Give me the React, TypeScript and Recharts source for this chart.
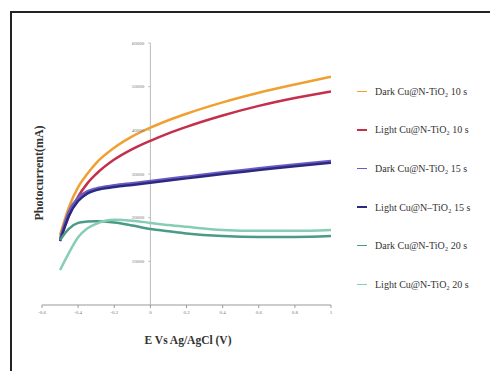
import React from 'react';
import { LineChart, Line, XAxis, YAxis, ReferenceLine } from 'recharts';

const potentials = [-0.5, -0.45, -0.4, -0.35, -0.3, -0.2, -0.1, 0, 0.1, 0.2, 0.4, 0.6, 0.8, 1];
const dark10 = [16000, 22500, 27000, 30000, 32500, 36000, 38600, 40600, 42300, 43800, 46400, 48600, 50500, 52300];
const light10 = [14900, 20500, 24800, 27800, 30000, 33300, 35700, 37600, 39300, 40800, 43400, 45600, 47400, 48900];
const dark15 = [15200, 21500, 24600, 26000, 26700, 27400, 27900, 28400, 28900, 29400, 30400, 31300, 32200, 33000];
const light15 = [14600, 20500, 23800, 25500, 26300, 27000, 27500, 28000, 28500, 29000, 30000, 30900, 31800, 32600];
const dark20 = [14900, 17500, 18800, 19100, 19200, 18900, 18200, 17400, 16900, 16400, 15800, 15600, 15600, 15800];
const light20 = [8000, 12000, 15500, 17500, 18600, 19500, 19300, 18800, 18300, 17900, 17200, 17000, 17000, 17200];

const xTicks = [-0.6, -0.4, -0.2, 0, 0.2, 0.4, 0.6, 0.8, 1];
const yTicks = [10000, 20000, 30000, 40000, 50000, 60000];

const seriesNames = [
  'Dark Cu@N-TiO\u2082 10 s',
  'Light Cu@N-TiO\u2082 10 s',
  'Dark Cu@N-TiO\u2082 15 s',
  'Light Cu@N\u2013TiO\u2082 15 s',
  'Dark Cu@N-TiO\u2082 20 s',
  'Light Cu@N-TiO\u2082 20 s',
];
const seriesKeys = ['dark10', 'light10', 'dark15', 'light15', 'dark20', 'light20'];
const seriesColors = ['#f0a032', '#c4304c', '#6a5cc4', '#2c2a80', '#4a9a86', '#86cdb4'];
const seriesValues = [dark10, light10, dark15, light15, dark20, light20];

const data = potentials.map((e, i) => {
  const row: Record<string, number> = { e };
  seriesKeys.forEach((k, j) => {
    row[k] = seriesValues[j][i];
  });
  return row;
});

const FONT = '"Liberation Serif", "DejaVu Serif", serif';

export default function App() {
  return (
    <div style={{ position: 'absolute', left: 0, top: 0, width: 490, height: 371, overflow: 'hidden', background: '#fff' }}>
      <div
        style={{
          position: 'absolute',
          left: 10,
          top: 11,
          width: 520,
          height: 400,
          borderLeft: '2px solid #222',
          borderTop: '2px solid #222',
          boxSizing: 'border-box',
        }}
      />
      <div style={{ position: 'absolute', left: 0, top: 0 }}>
        <LineChart
          width={490}
          height={371}
          data={data}
          margin={{ top: 43, right: 159, bottom: 46, left: 42 }}
        >
          <XAxis
            dataKey="e"
            type="number"
            domain={[-0.6, 1]}
            ticks={xTicks}
            allowDataOverflow
            height={20}
            stroke="#999"
            tickSize={3}
            tick={{ fontSize: 5, fill: '#777', fontFamily: FONT }}
          />
          <YAxis hide width={0} type="number" domain={[0, 60000]} ticks={yTicks} />
          <ReferenceLine stroke="#bbb" strokeWidth={1} segment={[{ x: 0, y: 0 }, { x: 0, y: 60000 }]} />
          {yTicks.map((v) => (
            <ReferenceLine
              key={v}
              stroke="#bbb"
              segment={[{ x: -0.012, y: v }, { x: 0, y: v }]}
              label={{ value: String(v), position: 'left', fontSize: 5, fill: '#777', fontFamily: FONT, offset: 4 }}
            />
          ))}
          {seriesKeys.map((k, j) => (
            <Line
              key={k}
              type="monotone"
              dataKey={k}
              name={seriesNames[j]}
              stroke={seriesColors[j]}
              strokeWidth={2.5}
              dot={false}
              isAnimationActive={false}
            />
          ))}
        </LineChart>
      </div>
      <div style={{ position: 'absolute', left: 357, top: 72, fontFamily: FONT, fontSize: 10, color: '#333' }}>
        {seriesNames.map((n, i) => (
          <div key={n} style={{ height: 38.6, display: 'flex', alignItems: 'center', whiteSpace: 'nowrap' }}>
            <span style={{ display: 'inline-block', width: 10, height: 1.5, background: seriesColors[i], marginRight: 8 }} />
            {n}
          </div>
        ))}
      </div>
      <div
        style={{
          position: 'absolute',
          left: 39,
          top: 173,
          transform: 'translate(-50%, -50%) rotate(-90deg)',
          fontFamily: FONT,
          fontWeight: 'bold',
          fontSize: 12,
          color: '#333',
          whiteSpace: 'nowrap',
        }}
      >
        Photocurrent(mA)
      </div>
      <div
        style={{
          position: 'absolute',
          left: 188,
          top: 340,
          transform: 'translate(-50%, -50%)',
          fontFamily: FONT,
          fontWeight: 'bold',
          fontSize: 11.5,
          color: '#333',
          whiteSpace: 'nowrap',
        }}
      >
        E Vs Ag/AgCl (V)
      </div>
    </div>
  );
}
